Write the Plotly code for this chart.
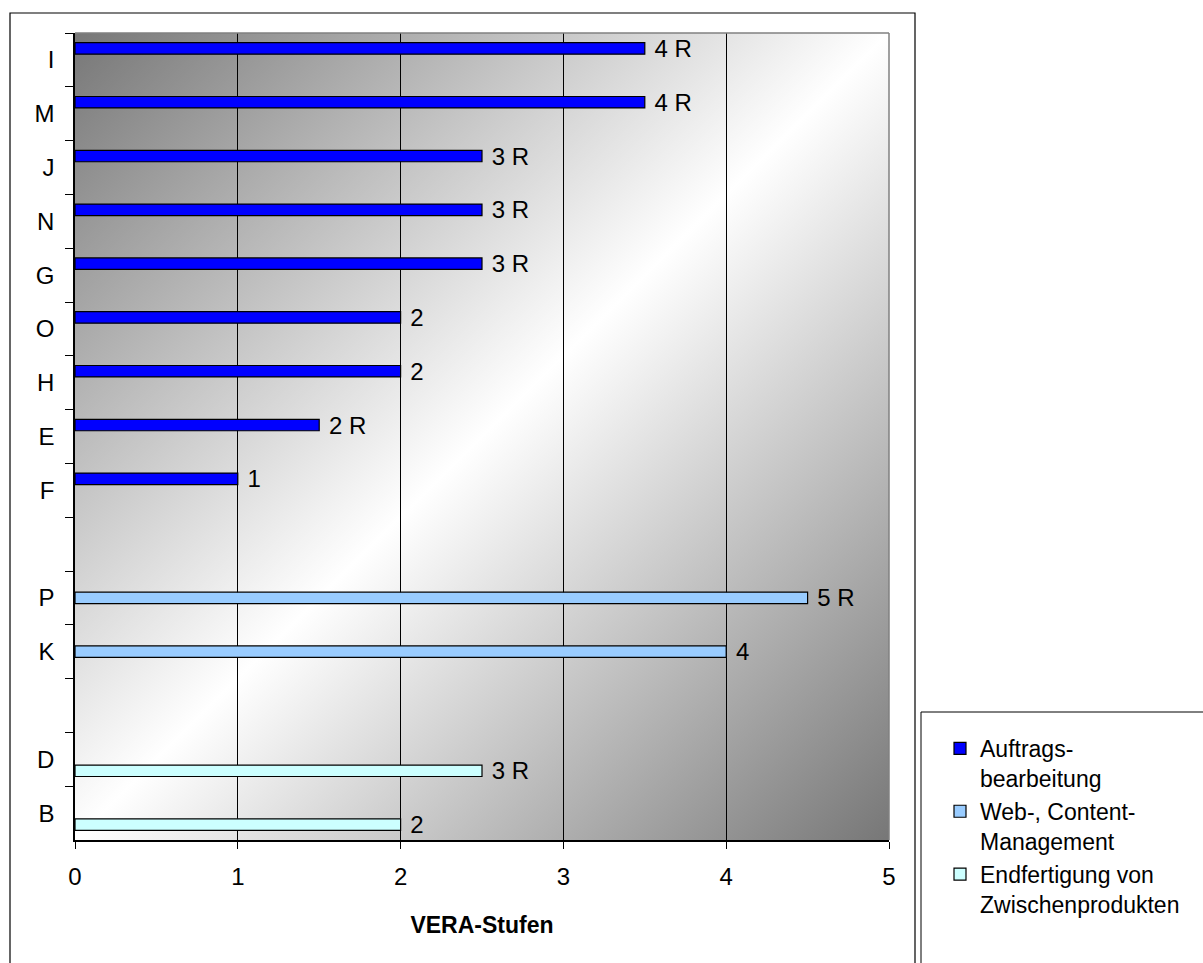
import base64
import plotly.graph_objects as go

# ---- data ----
category_order = ["I", "M", "J", "N", "G", "O", "H", "E", "F", " ", "P", "K", "  ", "D", "B"]

auftrag_cats = ["I", "M", "J", "N", "G", "O", "H", "E", "F"]
auftrag_vals = [3.5, 3.5, 2.5, 2.5, 2.5, 2.0, 2.0, 1.5, 1.0]
auftrag_labels = ["4 R", "4 R", "3 R", "3 R", "3 R", "2", "2", "2 R", "1"]

web_cats = ["P", "K"]
web_vals = [4.5, 4.0]
web_labels = ["5 R", "4"]

end_cats = ["D", "B"]
end_vals = [2.5, 2.0]
end_labels = ["3 R", "2"]

series_names = ["Auftrags-<br>bearbeitung", "Web-, Content-<br>Management", "Endfertigung von<br>Zwischenprodukten"]
series_colors = ["#0000FF", "#99CCFF", "#CCFFFF"]

x_ticks = [0, 1, 2, 3, 4, 5]
x_title = "VERA-Stufen"

FONT = "Liberation Sans, Arial, sans-serif"
W, H = 1203, 963
ML, MR, MT, MB = 75, 314, 33, 123
PW, PH = W - ML - MR, H - MT - MB


def px(x):
    return (x - ML) / PW


def py(y):
    return (H - MB - y) / PH


fig = go.Figure()
for i, (cats, vals, labels, name, color) in enumerate([
    (auftrag_cats, auftrag_vals, auftrag_labels, series_names[0], series_colors[0]),
    (web_cats, web_vals, web_labels, series_names[1], series_colors[1]),
    (end_cats, end_vals, end_labels, series_names[2], series_colors[2]),
]):
    fig.add_trace(go.Bar(
        y=cats, x=vals, orientation="h", name=name,
        offsetgroup=str(i), alignmentgroup="all",
        marker=dict(color=color, line=dict(color="black", width=1.2)),
        text=["\u00a0" + t for t in labels], textposition="outside",
        textfont=dict(family=FONT, size=24, color="black"),
        constraintext="none", cliponaxis=False,
    ))

# gradient background (diagonal: gray - white - gray)
svg = (
    '<svg xmlns="http://www.w3.org/2000/svg" width="100" height="100" viewBox="0 0 100 100" '
    'preserveAspectRatio="none"><defs><linearGradient id="g" x1="0" y1="0" x2="1" y2="1">'
    '<stop offset="0" stop-color="#777777"/><stop offset="0.5" stop-color="#ffffff"/>'
    '<stop offset="1" stop-color="#777777"/></linearGradient></defs>'
    '<rect x="0" y="0" width="100" height="100" fill="url(#g)"/></svg>'
)
uri = "data:image/svg+xml;base64," + base64.b64encode(svg.encode()).decode()
fig.add_layout_image(dict(source=uri, xref="paper", yref="paper", x=0, y=1, sizex=1, sizey=1,
                          xanchor="left", yanchor="top", sizing="stretch", layer="below"))

shapes = [
    # outer chart border
    dict(type="rect", xref="paper", yref="paper", x0=px(10), x1=px(915), y0=py(990), y1=py(13),
         line=dict(color="black", width=1.2), fillcolor="rgba(0,0,0,0)", layer="above"),
    # legend box
    dict(type="rect", xref="paper", yref="paper", x0=px(921), x1=px(1230), y0=py(990), y1=py(712),
         line=dict(color="black", width=1), fillcolor="rgba(0,0,0,0)", layer="above"),
    # plot area top / right border
    dict(type="line", xref="paper", yref="paper", x0=0, x1=1, y0=1, y1=1,
         line=dict(color="#808080", width=1.5), layer="above"),
    dict(type="line", xref="paper", yref="paper", x0=1, x1=1, y0=0, y1=1,
         line=dict(color="#808080", width=1.5), layer="above"),
]

fig.update_layout(
    width=W, height=H,
    margin=dict(l=ML, r=MR, t=MT, b=MB),
    paper_bgcolor="white", plot_bgcolor="rgba(0,0,0,0)",
    font=dict(family=FONT, size=24, color="black"),
    barmode="group", bargap=0.36, bargroupgap=0,
    shapes=shapes,
    legend=dict(x=px(940), y=py(727), xanchor="left", yanchor="top",
                traceorder="normal", bgcolor="rgba(0,0,0,0)", borderwidth=0,
                font=dict(family=FONT, size=23, color="black"),
                itemwidth=30, valign="top", tracegroupgap=0),
    showlegend=True,
)
fig.update_xaxes(range=[0, 5], tickvals=x_ticks, showgrid=True, gridcolor="black", gridwidth=1,
                 showline=True, linecolor="black", linewidth=1.5, ticks="outside", ticklen=7,
                 tickcolor="black", zeroline=False, ticklabelstandoff=7,
                 tickfont=dict(family=FONT, size=24),
                 title=dict(text="<b>" + x_title + "</b>", font=dict(family=FONT, size=23), standoff=28))
fig.update_yaxes(type="category", categoryorder="array", categoryarray=category_order,
                 autorange="reversed", showgrid=False, showline=True, linecolor="black", linewidth=1.5,
                 ticks="outside", ticklen=8, tickcolor="black", tickson="boundaries",
                 tickfont=dict(family=FONT, size=24),
                 ticklabelstandoff=14, zeroline=False)

fig.write_html("out.html")
